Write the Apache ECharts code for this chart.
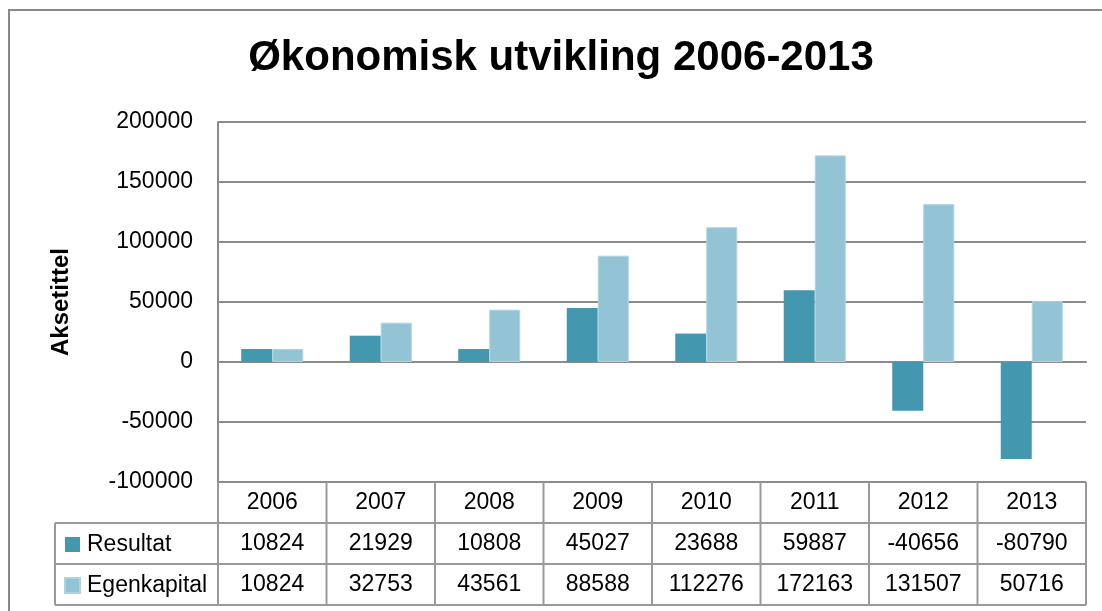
<!DOCTYPE html>
<html>
<head>
<meta charset="utf-8">
<script src="https://cdn.jsdelivr.net/npm/echarts@6/dist/echarts.min.js"></script>
<style>
html,body{margin:0;padding:0;background:#fff;}
#c{width:1102px;height:611px;}
</style>
</head>
<body>
<div id="c"></div>
<script>
const titleText = 'Økonomisk utvikling 2006-2013';
const yAxisTitle = 'Aksetittel';
const categories = ['2006', '2007', '2008', '2009', '2010', '2011', '2012', '2013'];
const seriesNames = ['Resultat', 'Egenkapital'];
const resultat = [10824, 21929, 10808, 45027, 23688, 59887, -40656, -80790];
const egenkapital = [10824, 32753, 43561, 88588, 112276, 172163, 131507, 50716];
const yMin = -100000, yMax = 200000, yStep = 50000;

const FONT = 'Liberation Sans, Arial, sans-serif';
const GRID = {left: 218, right: 16, top: 122, bottom: 129};
const LINE = '#8c8c8c';
const colors = ['#4397ae', '#93c4d5'];

const chart = echarts.init(document.getElementById('c'), null, {renderer: 'canvas'});

function tableAxis(values, offset) {
  return {
    type: 'category', data: categories, position: 'bottom', offset: offset,
    axisLine: {show: false}, axisTick: {show: false}, splitLine: {show: false},
    axisLabel: {
      show: true, margin: 9, fontSize: 23, color: '#000', fontFamily: FONT,
      interval: 0,
      formatter: function (v, i) { return String(values[i]); }
    }
  };
}

const option = {
  animation: false,
  backgroundColor: '#fff',
  color: colors,
  grid: GRID,
  legend: {
    orient: 'vertical', left: 59, top: 528, icon: 'rect',
    itemWidth: 15, itemHeight: 15, itemGap: 18,
    textStyle: {fontSize: 23, lineHeight: 23, color: '#000', fontFamily: FONT, padding: [0, 0, 0, 2]},
    data: seriesNames, selectedMode: false
  },
  xAxis: [
    {
      type: 'category', data: categories, position: 'bottom',
      axisLine: {show: true, lineStyle: {color: LINE, width: 2}},
      axisTick: {show: false},
      axisLabel: {show: true, margin: 9, fontSize: 23, color: '#000', fontFamily: FONT, interval: 0}
    },
    tableAxis(resultat, 41),
    tableAxis(egenkapital, 82)
  ],
  yAxis: {
    type: 'value', min: yMin, max: yMax, interval: yStep,
    name: yAxisTitle, nameLocation: 'middle', nameRotate: 90, nameGap: 145,
    nameTextStyle: {fontSize: 24, fontWeight: 'bold', color: '#000', fontFamily: FONT},
    axisLine: {show: true, lineStyle: {color: LINE, width: 2}},
    axisTick: {show: false},
    axisLabel: {fontSize: 23, color: '#000', fontFamily: FONT, margin: 25,
      formatter: function (v) { return String(v); }},
    splitLine: {show: true, lineStyle: {color: LINE, width: 2}}
  },
  series: [
    {name: seriesNames[0], type: 'bar', data: resultat, barWidth: 31, barGap: '0%', xAxisIndex: 0},
    {name: seriesNames[1], type: 'bar', data: egenkapital, barWidth: 31, barGap: '0%', xAxisIndex: 0,
     itemStyle: {borderColor: '#acd3e0', borderWidth: 1}}
  ]
};
chart.setOption(option);

// Table borders & chart frame (layout only)
const x0 = chart.convertToPixel({xAxisIndex: 0}, 0);
const x1 = chart.convertToPixel({xAxisIndex: 0}, 1);
const cw = x1 - x0;
const leftEdge = x0 - cw / 2;
const rightEdge = leftEdge + cw * categories.length;
const yTop = chart.convertToPixel({yAxisIndex: 0}, yMin);
const rowH = 41;
const yEnd = yTop + rowH * 3;
const legendLeft = 55;
const els = [];
const ls = {stroke: '#999', lineWidth: 2};
function line(xa, ya, xb, yb) { els.push({type: 'line', shape: {x1: xa, y1: ya, x2: xb, y2: yb}, style: ls, z: 10}); }
for (let r = 1; r <= 3; r++) {
  const y = yTop + rowH * r;
  line(legendLeft, y, rightEdge, y);
}
line(legendLeft, yTop + rowH, legendLeft, yEnd);
for (let i = 0; i <= categories.length; i++) {
  const x = leftEdge + cw * i;
  line(x, yTop, x, yEnd);
}
els.push({type: 'rect', shape: {x: 9, y: 10, width: 1200, height: 700}, style: {fill: null, stroke: '#888', lineWidth: 2}, z: 10});
els.push({type: 'text', x: 561, y: 58, style: {text: titleText, font: 'bold 42px ' + FONT, fill: '#000', textAlign: 'center', textVerticalAlign: 'middle'}, z: 10});
chart.setOption({graphic: els});
</script>
</body>
</html>
